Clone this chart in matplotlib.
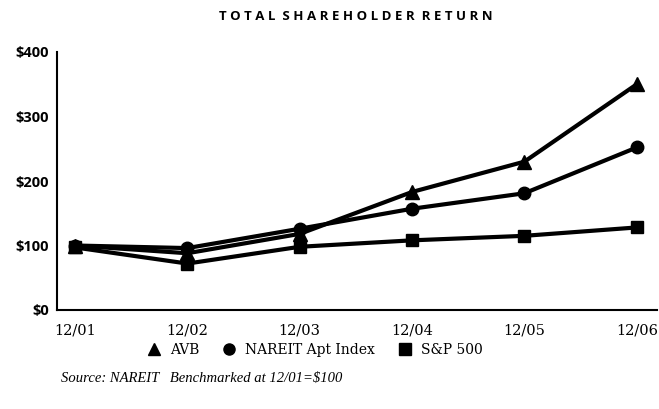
import matplotlib
matplotlib.use("Agg")
import matplotlib.pyplot as plt

periods = ["12/01", "12/02", "12/03", "12/04", "12/05", "12/06"]
avb = [100, 88, 118, 183, 230, 350]
nareit = [100, 96, 126, 157, 181, 252]
sp500 = [97, 72, 98, 108, 115, 128]
yticks = [0, 100, 200, 300, 400]
ytick_labels = ["$0", "$100", "$200", "$300", "$400"]

fig = plt.figure(figsize=(6.59, 4.09), dpi=100)
ax = fig.add_axes([57/659, 1 - 310/409, (657-57)/659, (310-52)/409])

x = list(range(len(periods)))
ax.plot(x, sp500, color="black", lw=3, marker="s", ms=9, label="S&P 500")
ax.plot(x, nareit, color="black", lw=3, marker="o", ms=9, label="NAREIT Apt Index")
ax.plot(x, avb, color="black", lw=3, marker="^", ms=10, label="AVB")

ax.set_xlim(-0.16, 5.18)
ax.set_ylim(0, 400)
ax.set_xticks(x)
ax.set_xticklabels(periods, family="DejaVu Serif", fontsize=10.5)
ax.set_yticks(yticks)
ax.set_yticklabels(ytick_labels, family="Open Sans", fontsize=10.5, weight="bold")
ax.tick_params(axis="y", length=0, pad=6)
ax.tick_params(axis="x", length=0, pad=10)
for s in ["top", "right"]:
    ax.spines[s].set_visible(False)
ax.spines["left"].set_linewidth(1.5)
ax.spines["bottom"].set_linewidth(1.5)

fig.text(356/659, 1 - 17/409, "T O T A L  S H A R E H O L D E R  R E T U R N",
         ha="center", va="center", fontsize=9.5, family="Open Sans", weight="bold")

handles, labels = ax.get_legend_handles_labels()
order = [2, 1, 0]
leg = fig.legend([handles[i] for i in order], [labels[i] for i in order],
                 loc="center", bbox_to_anchor=(316/659, 1 - 350/409), ncol=3, frameon=False,
                 prop={"family": "DejaVu Serif", "size": 10}, handlelength=0.7,
                 columnspacing=1.8, handletextpad=0.8)
for h in leg.legend_handles:
    h.set_linestyle("none")
    h.set_markersize(8)

fig.text(61/659, 1 - 378/409, "Source: NAREIT   Benchmarked at 12/01=$100",
         ha="left", va="center", fontsize=10.5, family="Liberation Serif", style="italic")

fig.savefig("out.png", dpi=100)
